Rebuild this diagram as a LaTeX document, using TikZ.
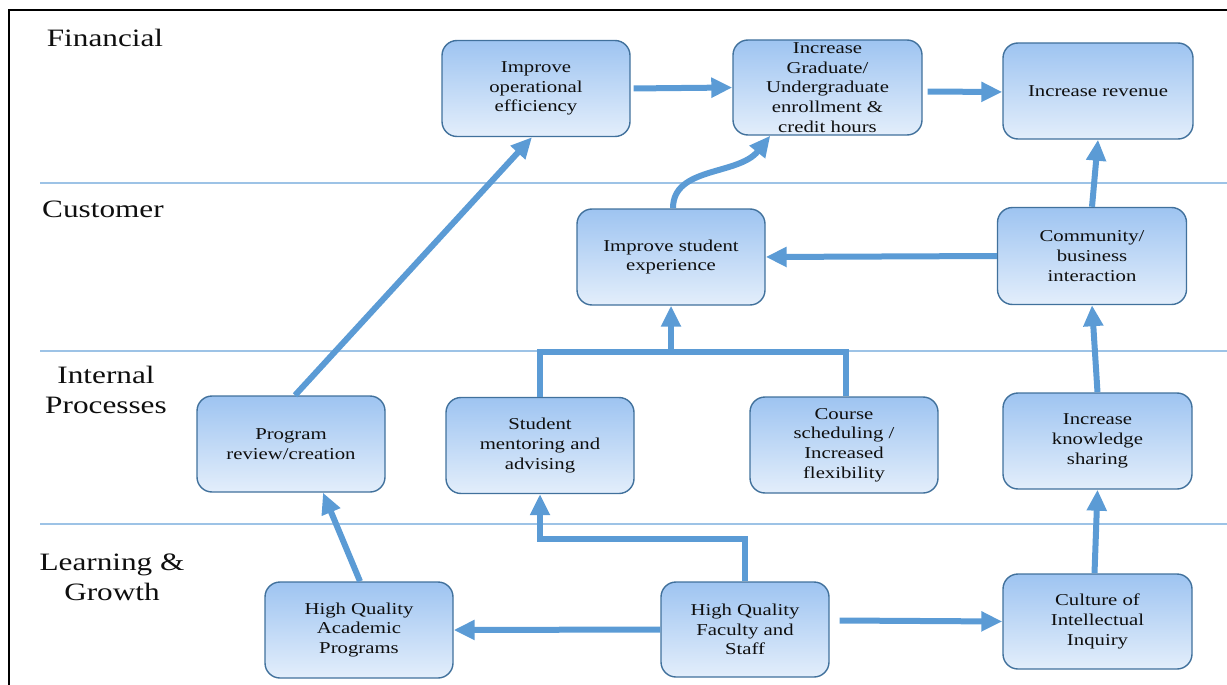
\documentclass[tikz,border=0pt]{standalone}
\usepackage{fontspec}
\setmainfont{Liberation Serif}[FakeStretch=1.25]
\usetikzlibrary{arrows.meta,calc}
\definecolor{arrowblue}{RGB}{91,155,213}
\definecolor{edgeblue}{RGB}{65,113,156}
\definecolor{filltop}{RGB}{158,196,241}
\definecolor{fillbot}{RGB}{227,238,251}
\definecolor{laneblue}{RGB}{157,195,230}
\definecolor{inktext}{RGB}{15,15,15}
\tikzset{
  box/.style={draw=edgeblue, line width=1.4pt, rounded corners=15pt,
    top color=filltop, bottom color=fillbot, align=center,
    text=inktext, font=\fontsize{16.6}{19.7}\selectfont,
    minimum width=188pt, minimum height=96pt, inner sep=0pt},
  lane/.style={align=center, text=inktext, font=\fontsize{25}{30}\selectfont, inner sep=0pt},
  flow/.style={draw=arrowblue, line width=6pt,
    -{Triangle[length=21pt,width=19pt]}},
  plain/.style={draw=arrowblue, line width=6pt},
  laneline/.style={draw=laneblue, line width=1.3pt}
}
\begin{document}
\begin{tikzpicture}[x=1pt,y=-1pt]
\useasboundingbox (0,0) rectangle (1227,685);
% frame
\draw[line width=2pt,black] (9,685) -- (9,10) -- (1227,10);
% lane separators
\draw[laneline] (40,183) -- (1227,183);
\draw[laneline] (40,351) -- (1227,351);
\draw[laneline] (40,524) -- (1227,524);
% lane labels
\node[lane, anchor=base] (lfin) at (105,47) {Financial};
\node[lane, anchor=base] (lcus) at (103,217) {Customer};
\node[lane] (lint) at (106,390) {Internal\\Processes};
\node[lane] (llea) at (112,577) {Learning \&\\Growth};
% boxes
\node[box] (eff) at (536,88.5) {Improve\\operational\\efficiency};
\node[box, minimum width=189pt, minimum height=95pt] (enr) at (827.5,87.5) {Increase\\Graduate/\\Undergraduate\\enrollment \&\\credit hours};
\node[box, minimum width=190pt] (rev) at (1098,91) {Increase revenue};
\node[box] (exp) at (671,257) {Improve student\\experience};
\node[box, minimum width=189pt, minimum height=97pt] (com) at (1092,256) {Community/\\business\\interaction};
\node[box] (prog) at (291,444) {Program\\review/creation};
\node[box] (ment) at (540,445.5) {Student\\mentoring and\\advising};
\node[box] (course) at (844,445) {Course\\scheduling /\\Increased\\flexibility};
\node[box, minimum width=189pt] (know) at (1097.5,441) {Increase\\knowledge\\sharing};
\node[box] (acad) at (359,630) {High Quality\\Academic\\Programs};
\node[box, minimum width=168pt, minimum height=95pt] (fac) at (745,629.5) {High Quality\\Faculty and\\Staff};
\node[box, minimum width=189pt, minimum height=95pt] (cult) at (1097.5,621.5) {Culture of\\Intellectual\\Inquiry};
% connectors
\draw[flow, shorten <=3pt] (eff.east) -- (enr.west);
\draw[flow, shorten <=5pt] ($(enr.east)+(0,4)$) -- ($(rev.west)+(0,1)$);
\draw[flow] ([xshift=2pt]exp.north) .. controls +(0,-42) and +(-32,40) .. ($(enr.south west)+(38,0)$);
\draw[flow] (com.west) -- (exp.east);
\draw[flow] (com.north) -- (rev.south);
\draw[flow] (know.north) -- (com.south);
\draw[flow] ([xshift=-3pt]cult.north) -- (know.south);
\draw[flow] ([xshift=4pt]prog.north) -- ([xshift=-4pt]eff.south);
\draw[flow] ([xshift=1pt]acad.north) -- ([xshift=32pt]prog.south);
\draw[flow] (fac.west) -- (acad.east);
\draw[flow] ($(fac.east)+(10,-9)$) -- (cult.west);
\draw[flow] (fac.north) -- ++(0,-42) -| (ment.south);
\coordinate (join) at ($(ment.north)+(0,-45)$);
\draw[plain] (ment.north) -- (join) -| ([xshift=2pt]course.north);
\draw[flow] (exp.south |- join) -- (exp.south);
\end{tikzpicture}
\end{document}
